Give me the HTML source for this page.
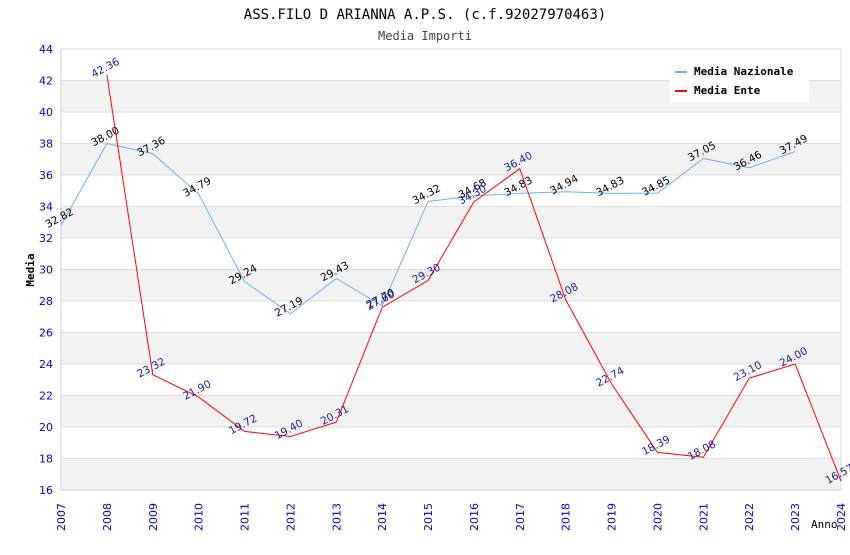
<!DOCTYPE html>
<html><head><meta charset="utf-8"><style>
body{margin:0;background:#fff;}
svg text{font-family:"DejaVu Sans","Liberation Sans",sans-serif;}
.mono{font-family:"DejaVu Sans Mono","Liberation Mono",monospace !important;}
</style></head><body>
<svg id="chart" width="850" height="550" xmlns="http://www.w3.org/2000/svg">
<text class="mono" x="425" y="19" text-anchor="middle" font-size="14">ASS.FILO D ARIANNA A.P.S. (c.f.92027970463)</text>
<text class="mono" x="425" y="40" text-anchor="middle" font-size="12" fill="#444">Media Importi</text>
<g id="grid"></g>
<g id="axes"></g>
<g id="series"></g>
<text class="mono" transform="translate(34,270) rotate(-90)" text-anchor="middle" font-size="11" font-weight="bold">Media</text>
<text class="mono" x="811" y="528" font-size="11">Anno</text>
<g>
<rect x="670" y="60" width="139" height="42" fill="#fff"/>
<line x1="675" y1="72" x2="687" y2="72" stroke="#6aaff0" stroke-width="2"/>
<text class="mono" x="694" y="75" font-size="11" font-weight="bold">Media Nazionale</text>
<line x1="675" y1="91" x2="687" y2="91" stroke="#f00" stroke-width="2"/>
<text class="mono" x="694" y="94" font-size="11" font-weight="bold">Media Ente</text>
</g>
</svg>
<script>
const years=[2007,2008,2009,2010,2011,2012,2013,2014,2015,2016,2017,2018,2019,2020,2021,2022,2023,2024];
const yTicks=[16,18,20,22,24,26,28,30,32,34,36,38,40,42,44];
const nazYears=[2007,2008,2009,2010,2011,2012,2013,2014,2015,2016,2017,2018,2019,2020,2021,2022,2023];
const nazValues=[32.82,38.00,37.36,34.79,29.24,27.19,29.43,27.70,34.32,34.68,34.83,34.94,34.83,34.85,37.05,36.46,37.49];
const enteYears=[2008,2009,2010,2011,2012,2013,2014,2015,2016,2017,2018,2019,2020,2021,2022,2023,2024];
const enteValues=[42.36,23.32,21.90,19.72,19.40,20.31,27.60,29.30,34.30,36.40,28.08,22.74,18.39,18.08,23.10,24.00,16.57];
const X0=61,X1=841,Y0=490,Y1=49;
const xs=y=>X0+(y-2007)/(2024-2007)*(X1-X0);
const ys=v=>Y0-(v-16)/(44-16)*(Y0-Y1);
const NS="http://www.w3.org/2000/svg";
function mk(tag,attrs,parent,txt){const e=document.createElementNS(NS,tag);for(const k in attrs)e.setAttribute(k,attrs[k]);if(txt!==undefined)e.textContent=txt;parent.appendChild(e);return e;}
const grid=document.getElementById('grid'),axes=document.getElementById('axes'),series=document.getElementById('series');
for(let i=0;i<yTicks.length-1;i++){
  const top=yTicks[i+1];
  const gray=((44-top)/2)%2==1;
  const r=mk('rect',{x:X0,y:ys(top),width:X1-X0,height:ys(yTicks[i])-ys(top),fill:gray?'#f2f2f2':'#fff'},grid);
  
  
}
yTicks.forEach(t=>{
  const l=mk('line',{x1:X0,x2:X1,y1:ys(t),y2:ys(t),stroke:'#ddd'},grid);
  
  
  const tx=mk('text',{x:X0-8,y:ys(t)+4,'text-anchor':'end','font-size':11,fill:'#00c'},axes,String(t));
  
  
});
mk('line',{x1:X0,x2:X0,y1:Y1,y2:Y0,stroke:'#ccc'},axes);
mk('line',{x1:X1,x2:X1,y1:Y1,y2:Y0,stroke:'#ddd'},axes);
mk('line',{x1:X0,x2:X1,y1:Y0,y2:Y0,stroke:'#ccc'},axes);
years.forEach(y=>{
  const tx=mk('text',{transform:`translate(${xs(y)+4},${Y0+41}) rotate(-90)`,'font-size':11,fill:'#00c'},axes,String(y));
  
  
});
function draw(yrs,vals,color,lblColor,name){
  const p=mk('polyline',{points:yrs.map((y,i)=>xs(y)+','+ys(vals[i])).join(' '),fill:'none',stroke:color,'stroke-width':1},series);
  
  
  yrs.forEach((y,i)=>{
    const t=mk('text',{transform:`translate(${xs(y)},${ys(vals[i])-4}) rotate(-28)`,'text-anchor':'middle','font-size':10.5,fill:lblColor},series,vals[i].toFixed(2));
    
    
  });
}
draw(nazYears,nazValues,'#6aaff0','#000','media-nazionale');
draw(enteYears,enteValues,'#f00','#1a1a99','media-ente');
</script>
</body></html>
